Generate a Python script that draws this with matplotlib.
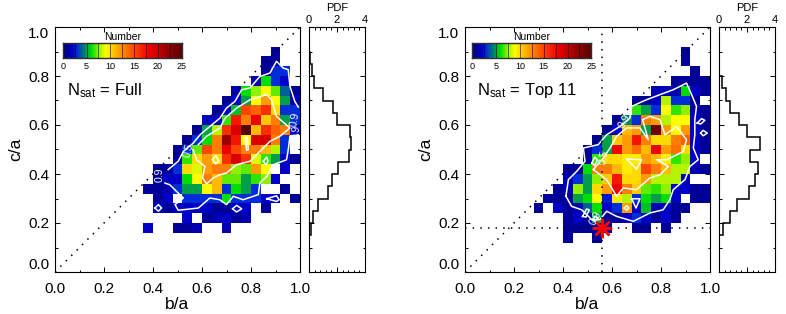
"""
Axis ratio distributions of satellite planes, b/a vs c/a, with marginal PDF of c/a.
"""

import numpy as np
import matplotlib
matplotlib.use('Agg')
import matplotlib.pyplot as plt
from matplotlib.colors import LinearSegmentedColormap
from matplotlib.ticker import MultipleLocator

plt.rcParams['font.family'] = ['Liberation Sans', 'DejaVu Sans']
plt.rcParams['mathtext.fontset'] = 'custom'
plt.rcParams['mathtext.rm'] = 'Liberation Sans'
plt.rcParams['mathtext.default'] = 'regular'

# Number of realisations per 0.04 x 0.04 cell, first row is c/a 0.12-0.16, columns are b/a 0-1
counts_full = [
    [0]*25,
    [0, 0, 0, 0, 0, 0, 0, 0, 0, 2, 0, 0, 1, 1, 1.5, 0, 0, 1.5, 0, 0, 0, 0, 0, 0, 0],
    [0, 0, 0, 0, 0, 0, 0, 0, 0, 0, 0, 0, 0, 2, 0, 1, 1.5, 2, 1, 1.5, 0, 0, 0, 0, 0],
    [0, 0, 0, 0, 0, 0, 0, 0, 0, 0, 2, 1, 2, 2, 2, 2, 1, 1, 2, 2, 0, 1, 0, 0, 0],
    [0, 0, 0, 0, 0, 0, 0, 0, 0, 0, 1, 2, 0, 3, 3, 3, 3, 6, 3, 3, 3, 2, 2, 0, 1],
    [0, 0, 0, 0, 0, 0, 0, 0, 0, 1, 1, 1.5, 3, 5, 5, 9, 11, 3, 6, 5, 3, 0, 0, 1, 0],
    [0, 0, 0, 0, 0, 0, 0, 0, 0, 0, 1, 2, 2, 6, 9, 13, 11, 7, 7, 5, 6.5, 7.5, 2, 0, 0],
    [0, 0, 0, 0, 0, 0, 0, 0, 0, 0, 1, 1, 3, 10, 8.5, 12, 13, 13, 7.5, 7, 12, 9, 0, 2, 0],
    [0, 0, 0, 0, 0, 0, 0, 0, 0, 0, 0, 0, 1, 6.5, 10, 12, 10, 16, 19, 16, 8.5, 6.5, 5, 2, 1],
    [0, 0, 0, 0, 0, 0, 0, 0, 0, 0, 0, 0, 1, 3, 7, 15, 13, 18, 15, 13, 13, 11, 8, 3, 0],
    [0, 0, 0, 0, 0, 0, 0, 0, 0, 0, 0, 0, 0, 1, 3, 6, 13, 22, 17, 9, 19, 19, 13, 3, 0],
    [0, 0, 0, 0, 0, 0, 0, 0, 0, 0, 0, 0, 0, 0, 1, 5, 8, 16, 19, 25, 11, 16, 14, 13, 2],
    [0, 0, 0, 0, 0, 0, 0, 0, 0, 0, 0, 0, 0, 0, 0, 2, 2, 6.5, 17, 13, 18, 10.5, 13, 5, 3],
    [0, 0, 0, 0, 0, 0, 0, 0, 0, 0, 0, 0, 0, 0, 0, 0, 1, 2, 5.5, 15, 14, 16, 10, 3, 3],
    [0, 0, 0, 0, 0, 0, 0, 0, 0, 0, 0, 0, 0, 0, 0, 0, 0, 1, 2, 5, 9, 12, 9, 5, 1.5],
    [0, 0, 0, 0, 0, 0, 0, 0, 0, 0, 0, 0, 0, 0, 0, 0, 0, 0, 1.5, 6, 7.5, 9, 7, 4, 1],
    [0, 0, 0, 0, 0, 0, 0, 0, 0, 0, 0, 0, 0, 0, 0, 0, 0, 0, 0, 0, 1.5, 6, 3, 2, 0],
    [0, 0, 0, 0, 0, 0, 0, 0, 0, 0, 0, 0, 0, 0, 0, 0, 0, 0, 0, 0, 0, 1, 3, 3, 0],
    [0, 0, 0, 0, 0, 0, 0, 0, 0, 0, 0, 0, 0, 0, 0, 0, 0, 0, 0, 0, 0, 1, 1, 0, 0],
    [0, 0, 0, 0, 0, 0, 0, 0, 0, 0, 0, 0, 0, 0, 0, 0, 0, 0, 0, 0, 0, 0, 1, 0, 0],
]
counts_top11 = [
    [0, 0, 0, 0, 0, 0, 0, 0, 0, 0, 1, 0, 0, 1, 0, 0, 0, 0, 0, 0, 0, 0, 0, 0, 0],
    [0, 0, 0, 0, 0, 0, 0, 0, 0, 0, 1, 1, 1, 1, 1, 0, 0, 1, 1, 0, 1, 0, 0, 0, 0],
    [0, 0, 0, 0, 0, 0, 0, 0, 0, 0, 1, 2, 1, 5, 1, 1, 2, 3, 2, 1, 2, 1, 0, 0, 0],
    [0, 0, 0, 0, 0, 0, 0, 1, 0, 2, 1, 1.5, 4, 6, 2, 3, 12, 2, 5.5, 1.5, 2, 1, 1, 0, 0],
    [0, 0, 0, 0, 0, 0, 0, 0, 1, 1, 1, 5, 6, 9, 2.5, 9.5, 8, 3, 6, 5, 6, 2, 0, 1, 1],
    [0, 0, 0, 0, 0, 0, 0, 0, 0, 1, 1.5, 7.5, 5, 10, 12, 18, 13, 10.5, 7, 6.5, 7.5, 2, 2, 1, 1],
    [0, 0, 0, 0, 0, 0, 0, 0, 0, 0, 1.5, 3, 5, 7.5, 10.5, 17, 10, 10, 12, 8, 8, 8, 1.5, 0, 0],
    [0, 0, 0, 0, 0, 0, 0, 0, 0, 0, 1, 1, 6, 13, 13, 11, 9.5, 10, 15, 13, 11, 8, 8, 1.5, 1],
    [0, 0, 0, 0, 0, 0, 0, 0, 0, 0, 0, 0, 1, 6.5, 10, 10, 9.5, 9.5, 12, 11, 9.5, 6.5, 7.5, 2, 0],
    [0, 0, 0, 0, 0, 0, 0, 0, 0, 0, 0, 0, 1, 3, 5, 18, 12, 13.5, 11, 18, 12, 13.5, 10, 2, 1],
    [0, 0, 0, 0, 0, 0, 0, 0, 0, 0, 0, 0, 0, 1, 5, 10.5, 12, 17, 13, 10, 10, 13, 14, 2, 1],
    [0, 0, 0, 0, 0, 0, 0, 0, 0, 0, 0, 0, 0, 0, 1, 2, 11, 12, 5, 24, 12, 9, 12, 2, 1],
    [0, 0, 0, 0, 0, 0, 0, 0, 0, 0, 0, 0, 0, 0, 0, 1, 4.5, 3, 13, 12, 8, 9, 9, 2, 1],
    [0, 0, 0, 0, 0, 0, 0, 0, 0, 0, 0, 0, 0, 0, 0, 0, 0, 6.5, 5, 3, 9, 6.5, 7.5, 1.5, 1],
    [0, 0, 0, 0, 0, 0, 0, 0, 0, 0, 0, 0, 0, 0, 0, 0, 0, 1, 1, 2, 8, 3, 3, 1, 0],
    [0, 0, 0, 0, 0, 0, 0, 0, 0, 0, 0, 0, 0, 0, 0, 0, 0, 0, 0, 1.5, 1.5, 1.5, 6, 2, 1],
    [0, 0, 0, 0, 0, 0, 0, 0, 0, 0, 0, 0, 0, 0, 0, 0, 0, 0, 0, 0, 0, 1, 1, 1, 1],
    [0, 0, 0, 0, 0, 0, 0, 0, 0, 0, 0, 0, 0, 0, 0, 0, 0, 0, 0, 0, 0, 0, 0, 1, 0],
    [0, 0, 0, 0, 0, 0, 0, 0, 0, 0, 0, 0, 0, 0, 0, 0, 0, 0, 0, 0, 0, 0, 1, 0, 0],
    [0, 0, 0, 0, 0, 0, 0, 0, 0, 0, 0, 0, 0, 0, 0, 0, 0, 0, 0, 0, 0, 0, 1, 0, 0],
]
cell_edges = np.arange(26) * 0.04
row_edges = np.arange(3, 24) * 0.04

# Marginal PDF of c/a in bins of 0.05, from c/a = 0.15 upwards
pdf_edges = np.arange(15, 95, 5) / 100
pdf_full = [0.12, 0.27, 0.67, 1.33, 1.66, 2.1, 2.87, 3.03, 2.9, 2.0, 1.69, 1.0, 0.39, 0.24, 0.05]
pdf_top11 = [0.31, 0.75, 1.28, 2.17, 2.6, 2.8, 2.2, 2.9, 2.0, 1.4, 0.75, 0.48, 0.24, 0.0, 0.0]

# Enclosed fraction contours, (b/a, c/a)
full_09_upper = [(.462, .418), (.503, .452), (.524, .492), (.564, .526), (.592, .560), (.632, .594), (.673, .628),
                 (.700, .669), (.734, .696), (.762, .744), (.796, .751), (.836, .798), (.877, .812), (.904, .860),
                 (.932, .832), (.952, .826), (.959, .758), (.979, .696), (.993, .673)]
full_09_lower = [(.993, .560), (.959, .554), (.952, .499), (.945, .458), (.891, .438), (.864, .390), (.836, .363),
                 (.830, .316), (.768, .295), (.728, .309), (.700, .275), (.673, .295), (.632, .302), (.585, .261),
                 (.503, .252), (.490, .275), (.524, .302), (.496, .329), (.469, .356), (.449, .363)]
full_05 = [(.585, .520), (.619, .554), (.673, .588), (.694, .628), (.741, .669), (.796, .703), (.864, .724),
           (.884, .703), (.904, .635), (.959, .588), (.918, .554), (.877, .533), (.836, .492), (.796, .452),
           (.741, .438), (.700, .404), (.673, .397), (.646, .384), (.619, .360), (.602, .384), (.612, .431),
           (.578, .458), (.564, .499)]
full_loops = [[(.408, .261), (.422, .275), (.435, .261), (.422, .248), (.408, .261)],
              [(.725, .258), (.741, .272), (.762, .258), (.741, .245), (.725, .258)],
              [(.864, .299), (.904, .311), (.915, .295), (.904, .288), (.864, .299)],
              [(.643, .458), (.656, .475), (.669, .452), (.656, .441), (.643, .458)],
              [(.777, .547), (.785, .551), (.789, .499), (.782, .496), (.777, .547)],
              [(.850, .452), (.864, .469), (.870, .452), (.861, .438), (.850, .452)]]
top11_09 = [(.412, .309), (.422, .377), (.456, .411), (.490, .452), (.483, .506), (.544, .520), (.578, .560),
            (.632, .594), (.673, .628), (.680, .676), (.741, .703), (.796, .724), (.850, .744), (.904, .771),
            (.925, .724), (.945, .676), (.938, .622), (.938, .560), (.932, .506), (.952, .458), (.918, .431),
            (.898, .377), (.850, .336), (.836, .295), (.809, .254), (.755, .241), (.687, .207), (.619, .227),
            (.578, .248), (.551, .214), (.517, .214), (.476, .254), (.435, .268), (.412, .309)]
top11_05 = [(.524, .418), (.564, .465), (.592, .506), (.619, .554), (.660, .588), (.714, .588), (.748, .540),
            (.725, .622), (.755, .635), (.796, .622), (.816, .560), (.864, .594), (.904, .540), (.891, .492),
            (.823, .458), (.782, .458), (.830, .431), (.796, .397), (.755, .384), (.700, .336), (.646, .343),
            (.619, .309), (.578, .377), (.524, .418)]
top11_loops = [[(.660, .461), (.721, .458), (.700, .420), (.660, .461)],
               [(.680, .299), (.714, .299), (.698, .261), (.680, .299)],
               [(.650, .261), (.660, .271), (.669, .261), (.660, .252), (.650, .261)],
               [(.518, .445), (.530, .469), (.540, .458), (.530, .434), (.518, .445)],
               [(.480, .227), (.496, .257), (.507, .254), (.494, .224), (.480, .227)],
               [(.521, .214), (.532, .227), (.543, .220), (.532, .207), (.521, .214)],
               [(.948, .608), (.966, .626), (.979, .619), (.962, .604), (.948, .608)],
               [(.962, .567), (.972, .578), (.989, .567), (.972, .556), (.962, .567)]]

# Contour labels: text, b/a, c/a, rotation
full_labels = [('0.9', .426, .397, 90), ('0.5', .545, .497, 75), ('0.9', .978, .624, 80), ('0.9', .985, .572, 80)]
top11_labels = [('0.5', .565, .468, 80), ('0.9', .532, .218, 60), ('0.9', .650, .615, 60)]

# Milky Way point
mw_ba = 0.56
mw_ca = 0.18

cmap_values = [0, 1, 2, 3, 4.5, 6, 7.5, 9, 10.5, 12.5, 15, 18, 23, 25]
cmap_colors = ['#00007a', '#00009a', '#0000c8', '#0030d8', '#008070', '#00e000', '#96f000', '#ffff00',
               '#ffc800', '#ff8c00', '#ff4600', '#f00000', '#820000', '#5a0000']
cmap = LinearSegmentedColormap.from_list('number', [(v / 25, c) for v, c in zip(cmap_values, cmap_colors)])

W, H = 786, 314
fig = plt.figure(figsize=(W / 100, H / 100), dpi=100)


def px_axes(left, right, top, bottom):
    return fig.add_axes([left / W, 1 - bottom / H, (right - left) / W, (bottom - top) / H])


def style(ax):
    for s in ax.spines.values():
        s.set_linewidth(0.8)
    ax.tick_params(which='major', direction='in', top=True, right=True, length=3.5, width=0.7)
    ax.tick_params(which='minor', direction='in', top=True, right=True, length=1.8, width=0.7)


def draw_line(ax, points):
    xs, ys = zip(*points)
    ax.plot(xs, ys, color='white', lw=1.1)


def panel(x0, counts, lines, labels, pdf, title, cbar_x0):
    ax = px_axes(x0, x0 + 245, 27, 272)
    data = np.ma.masked_equal(np.array(counts, dtype=float), 0)
    ax.pcolormesh(cell_edges, row_edges, data, cmap=cmap, vmin=0, vmax=25)
    ax.plot([0, 1], [0, 1], color='k', ls=(0, (1, 4)), lw=1.1)
    for line in lines:
        draw_line(ax, line)
    for text, lx, ly, rot in labels:
        ax.text(lx, ly, text, color='white', fontsize=7.5, rotation=rot, ha='center', va='center', clip_on=True)
    ax.set_xlim(0, 1)
    ax.set_ylim(0, 1)
    ax.xaxis.set_major_locator(MultipleLocator(0.2))
    ax.yaxis.set_major_locator(MultipleLocator(0.2))
    ax.xaxis.set_minor_locator(MultipleLocator(0.1))
    ax.yaxis.set_minor_locator(MultipleLocator(0.1))
    style(ax)
    ax.tick_params(axis='both', which='major', labelsize=11)
    ax.tick_params(axis='x', which='major', pad=7)
    ax.tick_params(axis='y', which='major', pad=4)
    ax.set_xlabel('b/a', fontsize=12.5, labelpad=1)
    ax.set_ylabel('c/a', fontsize=12.5, labelpad=4)
    fig.canvas.draw()
    ylabs = ax.get_yticklabels()
    ylabs[1].set_va('bottom')
    ylabs[-2].set_va('top')
    ax.text(0.05, 0.74, title, fontsize=12, ha='left', va='center', transform=ax.transAxes)

    # Colour bar inside the panel
    cax = px_axes(cbar_x0, cbar_x0 + 119, 43, 58)
    gradient = np.linspace(0, 25, 256).reshape(1, -1)
    cax.imshow(gradient, aspect='auto', cmap=cmap, vmin=0, vmax=25, extent=[0, 25, 0, 1])
    cax.set_yticks([])
    cax.xaxis.set_major_locator(MultipleLocator(5))
    cax.xaxis.set_minor_locator(MultipleLocator(2.5))
    cax.tick_params(which='both', direction='in', length=10.5, width=0.4, labelsize=6.5, pad=3)
    cax.set_title('Number', fontsize=7.5, pad=2.5)
    for s in cax.spines.values():
        s.set_linewidth(1.0)
        s.set_color('#303030')

    # Marginal PDF
    side = px_axes(x0 + 254, x0 + 310, 27, 272)
    side.stairs(pdf, pdf_edges, orientation='horizontal', color='k', lw=1.1)
    side.set_xlim(0, 4)
    side.set_ylim(0, 1)
    side.xaxis.set_major_locator(MultipleLocator(2))
    side.xaxis.set_minor_locator(MultipleLocator(0.4))
    side.yaxis.set_major_locator(MultipleLocator(0.2))
    side.yaxis.set_minor_locator(MultipleLocator(0.1))
    style(side)
    side.tick_params(axis='x', which='both', labelbottom=False, labeltop=True, labelsize=8, pad=1.5)
    side.tick_params(axis='y', which='both', labelleft=False)
    side.xaxis.set_label_position('top')
    side.set_xlabel('PDF', fontsize=8, labelpad=2.5)
    return ax


panel(55, counts_full, [full_09_upper, full_09_lower, full_05] + full_loops, full_labels,
      pdf_full, r'N$_{sat}$ = Full', 62.7)
ax2 = panel(465, counts_top11, [top11_09, top11_05] + top11_loops, top11_labels,
            pdf_top11, r'N$_{sat}$ = Top 11', 472.3)
ax2.axhline(mw_ca, color='k', ls=(0, (1, 4)), lw=1.1)
ax2.axvline(mw_ba, color='k', ls=(0, (1, 4)), lw=1.1)
ax2.plot([mw_ba], [mw_ca], marker=(8, 2, 0), color='red', ms=14, mew=1.8, ls='none')

fig.savefig('out.png', dpi=100)
